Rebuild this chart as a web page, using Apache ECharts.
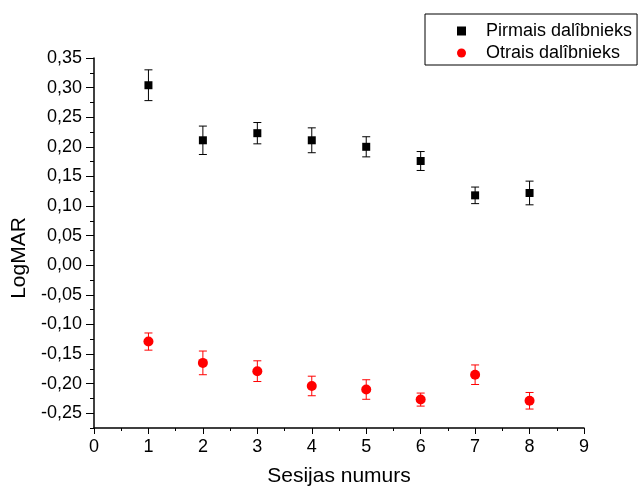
<!DOCTYPE html>
<html>
<head>
<meta charset="utf-8">
<script src="https://cdn.jsdelivr.net/npm/echarts@6/dist/echarts.min.js"></script>
<style>html,body{margin:0;padding:0;background:#fff}#c{width:638px;height:492px}</style>
</head>
<body>
<div id="c"></div>
<script>
const sessions = [1, 2, 3, 4, 5, 6, 7, 8];
const firstName = 'Pirmais dalîbnieks';
const firstMean = [0.304, 0.211, 0.223, 0.211, 0.200, 0.176, 0.118, 0.122];
const firstErr  = [0.026, 0.024, 0.018, 0.021, 0.017, 0.016, 0.014, 0.020];
const secondName = 'Otrais dalîbnieks';
const secondMean = [-0.129, -0.165, -0.179, -0.204, -0.210, -0.227, -0.185, -0.229];
const secondErr  = [0.0145, 0.020, 0.0175, 0.0165, 0.0165, 0.011, 0.0165, 0.014];
const yMajorTicks = [-0.25, -0.20, -0.15, -0.10, -0.05, 0, 0.05, 0.10, 0.15, 0.20, 0.25, 0.30, 0.35];
const xTicks = [0, 1, 2, 3, 4, 5, 6, 7, 8, 9];

const FONT = '"Liberation Sans", Arial, sans-serif';
const chart = echarts.init(document.getElementById('c'));

function pts(mean) { return sessions.map((s, i) => [s, mean[i]]); }
function errData(mean, err) { return sessions.map((s, i) => [s, mean[i] - err[i], mean[i] + err[i]]); }
function errSeries(mean, err, color) {
  return {
    type: 'custom',
    silent: true,
    z: 1,
    data: errData(mean, err),
    renderItem: function (params, api) {
      const x = api.value(0);
      const lo = api.coord([x, api.value(1)]);
      const hi = api.coord([x, api.value(2)]);
      const hw = 4;
      const st = { stroke: color, lineWidth: 1 };
      return {
        type: 'group',
        children: [
          { type: 'line', shape: { x1: lo[0], y1: lo[1], x2: hi[0], y2: hi[1] }, style: st },
          { type: 'line', shape: { x1: lo[0] - hw, y1: lo[1], x2: lo[0] + hw, y2: lo[1] }, style: st },
          { type: 'line', shape: { x1: hi[0] - hw, y1: hi[1], x2: hi[0] + hw, y2: hi[1] }, style: st }
        ]
      };
    }
  };
}
const fmt = v => (Math.abs(v) < 1e-9 ? 0 : v).toFixed(2).replace('.', ',');

chart.setOption({
  animation: false,
  backgroundColor: '#fff',
  grid: { left: 94, right: 54, top: 58, bottom: 61, containLabel: false },
  legend: {
    orient: 'vertical',
    left: 425, top: 14,
    padding: [8, 5, 3, 32],
    borderColor: '#000', borderWidth: 1,
    itemWidth: 9, itemHeight: 9, itemGap: 4,
    textStyle: { fontFamily: FONT, fontSize: 18, color: '#000', lineHeight: 17, padding: [0, 0, 0, 15] },
    data: [{ name: firstName, icon: 'rect' }, { name: secondName, icon: 'circle' }]
  },
  xAxis: {
    type: 'value', min: 0, max: 9, interval: 1,
    name: 'Sesijas numurs', nameLocation: 'middle', nameGap: 38,
    nameTextStyle: { fontFamily: FONT, fontSize: 21, color: '#000' },
    axisLine: { onZero: false, lineStyle: { color: '#000', width: 1.5 } },
    axisTick: { show: true, inside: false, length: 6, lineStyle: { color: '#000', width: 1 } },
    minorTick: { show: true, splitNumber: 2, length: 3, lineStyle: { color: '#000', width: 1 } },
    axisLabel: { fontFamily: FONT, fontSize: 18, color: '#000', margin: 10, formatter: v => String(v) },
    splitLine: { show: false }
  },
  yAxis: [{
    type: 'value', min: -0.275, max: 0.35,
    name: 'LogMAR', nameLocation: 'middle', nameGap: 62, nameRotate: 90,
    nameTextStyle: { fontFamily: FONT, fontSize: 21, color: '#000', padding: [0, 30, 0, 0] },
    axisLine: { onZero: false, lineStyle: { color: '#000', width: 1.5 } },
    axisTick: { show: true, inside: false, length: 8, customValues: yMajorTicks, lineStyle: { color: '#000', width: 1 } },
    axisLabel: { fontFamily: FONT, fontSize: 18, color: '#000', margin: 12, customValues: yMajorTicks, formatter: fmt },
    splitLine: { show: false }
  }, {
    type: 'value', min: -0.275, max: 0.35, interval: 0.025, position: 'left', offset: 0,
    axisLine: { show: false },
    axisTick: { show: true, inside: false, length: 4, lineStyle: { color: '#000', width: 1 } },
    axisLabel: { show: false },
    splitLine: { show: false }
  }],
  series: [
    errSeries(firstMean, firstErr, '#000'),
    errSeries(secondMean, secondErr, '#ff0000'),
    { name: firstName, type: 'scatter', z: 3, symbol: 'rect', symbolSize: 8,
      itemStyle: { color: '#000', opacity: 1 }, data: pts(firstMean) },
    { name: secondName, type: 'scatter', z: 3, symbol: 'circle', symbolSize: 10,
      itemStyle: { color: '#ff0000', opacity: 1 }, data: pts(secondMean) }
  ]
});
</script>
</body>
</html>
